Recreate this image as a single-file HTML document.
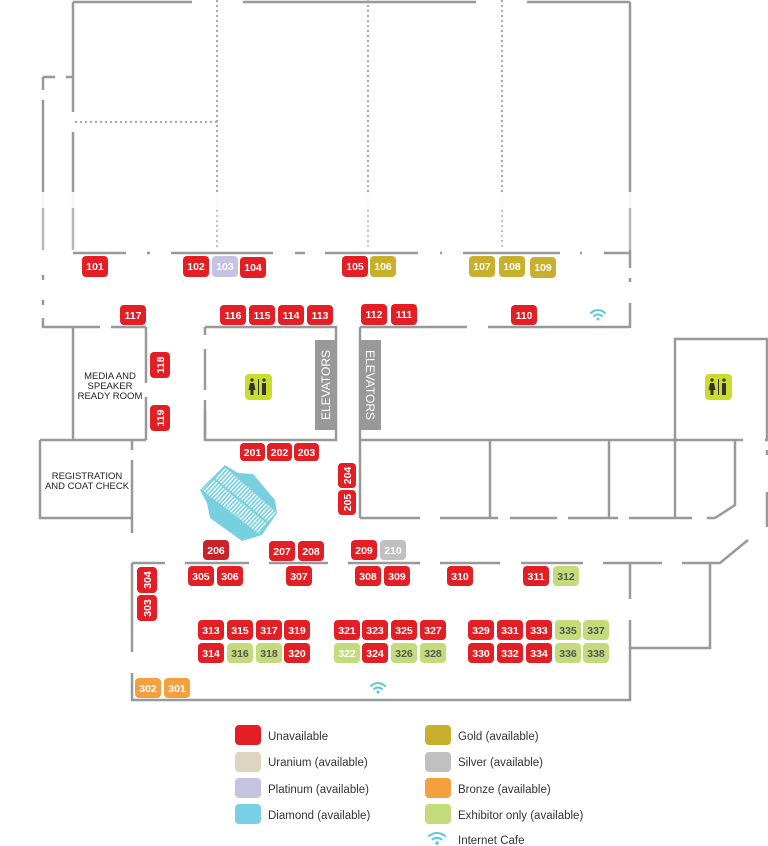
<!DOCTYPE html>
<html><head><meta charset="utf-8"><style>
html,body{margin:0;padding:0;background:#fff;}
svg{display:block;}
.b{font-family:"Liberation Sans",sans-serif;font-weight:bold;font-size:10.5px;fill:#fff;text-anchor:middle;}
.g{fill:#555;}
.l{font-family:"Liberation Sans",sans-serif;font-size:11.5px;fill:#333;}
.r{font-family:"Liberation Sans",sans-serif;font-size:9.5px;fill:#222;text-anchor:middle;}
</style></head><body>
<svg width="768" height="846" viewBox="0 0 768 846" xmlns="http://www.w3.org/2000/svg">
<defs>
<pattern id="st" width="3" height="10" patternUnits="userSpaceOnUse" patternTransform="rotate(42.7)">
<rect width="3" height="10" fill="#78cfe0"/><rect x="0" width="1.3" height="10" fill="#fff"/>
</pattern>
</defs>
<g stroke="#999" stroke-width="2.5" fill="none">
<path d="M73 2H192M243 2H476M527 2H630"/>
<path d="M73 2V112M73 132V250M630 2V253"/>
<path d="M73 253H126M147 253H150M171 253H273M295 253H305M325 253H418M440 253H442M463 253H560M580 253H582M604 253H630"/>
<path d="M630 253V268M630 278V282M630 303V328"/>
<path d="M43 77H55M66 77H73M43 77V90M43 100V250M43 275V280M43 300V305M43 318V327H100M111 327H146"/>
<path d="M205 327H336V440H205V400M205 335V327M205 349V390"/>
<path d="M205 410V440"/>
<path d="M360 327H467M488 327H630"/>
<path d="M360 327V518"/>
<path d="M73 327V440M146 327V383M146 397V440M40 440H146M40 440V518H132M132 440V450M132 460V533"/>
<path d="M360 440H743M765 440H768"/>
<path d="M675 440V339H767V440"/>
<path d="M490 440V518M609 440V518M675 440V518M735 440V505L715 518M767 450V455M767 492V527"/>
<path d="M360 518H420M440 518H498M510 518H557M568 518H618M629 518H692M707 518H715"/>
<path d="M132 563H165M185 563H249M269 563H328M348 563H420M440 563H500M521 563H583M603 563H662M682 563H720L748 540"/>
<path d="M132 563V652M132 673V700H630V620M630 599V563M630 648H710V563"/>
</g>
<g stroke="#aaa" stroke-width="2" stroke-dasharray="2 3" fill="none">
<path d="M217 0V250M368 0V250M502 0V250M75 122H217"/>
</g>
<rect x="0" y="192" width="768" height="16" fill="#fff" opacity="0.9"/>
<rect x="0" y="208" width="768" height="42" fill="#fff" opacity="0.3"/>
<rect x="315" y="340" width="20" height="90" fill="#999"/>
<rect x="361" y="340" width="20" height="90" fill="#999"/>
<text transform="translate(330,385) rotate(-90)" text-anchor="middle" font-family="Liberation Sans,sans-serif" font-size="12" fill="#fff">ELEVATORS</text>
<text transform="translate(366,385) rotate(90)" text-anchor="middle" font-family="Liberation Sans,sans-serif" font-size="12" fill="#fff">ELEVATORS</text>
<text class="r" x="110" y="379">MEDIA AND</text>
<text class="r" x="110" y="389">SPEAKER</text>
<text class="r" x="110" y="399">READY ROOM</text>
<text class="r" x="87" y="479">REGISTRATION</text>
<text class="r" x="87" y="489">AND COAT CHECK</text>
<rect x="245" y="374" width="27" height="26" rx="4" fill="#cbdc2a"/>
<rect x="705" y="374" width="27" height="26" rx="4" fill="#cbdc2a"/>
<g fill="#333"><circle cx="252" cy="380" r="1.6"/><path d="M250 383h4l1.5 7h-2v5h-3v-5h-2z"/><rect x="258" y="379" width="1" height="16"/><circle cx="264" cy="380" r="1.6"/><rect x="262" y="383" width="4" height="12"/>
<circle cx="712" cy="380" r="1.6"/><path d="M710 383h4l1.5 7h-2v5h-3v-5h-2z"/><rect x="718" y="379" width="1" height="16"/><circle cx="724" cy="380" r="1.6"/><rect x="722" y="383" width="4" height="12"/></g>
<polygon points="225,465 238,473 253,474 275,500 277,513 262,535 242,541 210,518 207,503 200,490" fill="#78cfe0"/>
<polygon points="225,467 202,490 259,534 276,512" fill="url(#st)"/>
<line x1="213" y1="478" x2="268" y2="523" stroke="#78cfe0" stroke-width="2"/>
<g fill="#e31e24">
<rect x="82" y="256" width="26" height="21" rx="4"/>
<rect x="183" y="256" width="26" height="21" rx="4"/>
<rect x="240" y="257" width="26" height="21" rx="4"/>
<rect x="342" y="256" width="26" height="21" rx="4"/>
<rect x="120" y="305" width="26" height="20" rx="4"/>
<rect x="220" y="305" width="26" height="20" rx="4"/>
<rect x="249" y="305" width="26" height="20" rx="4"/>
<rect x="278" y="305" width="26" height="20" rx="4"/>
<rect x="307" y="305" width="26" height="20" rx="4"/>
<rect x="361" y="304" width="26" height="21" rx="4"/>
<rect x="391" y="304" width="26" height="21" rx="4"/>
<rect x="511" y="305" width="26" height="20" rx="4"/>
<rect x="150" y="352" width="20" height="26" rx="4"/>
<rect x="150" y="405" width="20" height="26" rx="4"/>
<rect x="240" y="443" width="25" height="18" rx="4"/>
<rect x="267" y="443" width="25" height="18" rx="4"/>
<rect x="294" y="443" width="25" height="18" rx="4"/>
<rect x="338" y="463" width="18" height="25" rx="4"/>
<rect x="338" y="490" width="18" height="25" rx="4"/>
<rect x="269" y="541" width="26" height="20" rx="4"/>
<rect x="298" y="541" width="26" height="20" rx="4"/>
<rect x="351" y="540" width="26" height="20" rx="4"/>
<rect x="137" y="567" width="20" height="26" rx="4"/>
<rect x="137" y="595" width="20" height="26" rx="4"/>
<rect x="188" y="566" width="26" height="20" rx="4"/>
<rect x="217" y="566" width="26" height="20" rx="4"/>
<rect x="286" y="566" width="26" height="20" rx="4"/>
<rect x="355" y="566" width="26" height="20" rx="4"/>
<rect x="384" y="566" width="26" height="20" rx="4"/>
<rect x="447" y="566" width="26" height="20" rx="4"/>
<rect x="523" y="566" width="26" height="20" rx="4"/>
</g>
<rect x="203" y="540" width="26" height="20" rx="4" fill="#c8232c"/>
<rect x="212" y="256" width="26" height="21" rx="4" fill="#c6c3e0"/>
<g fill="#c9b02c">
<rect x="370" y="256" width="26" height="21" rx="4"/>
<rect x="469" y="256" width="26" height="21" rx="4"/>
<rect x="499" y="256" width="26" height="21" rx="4"/>
<rect x="530" y="257" width="26" height="21" rx="4"/>
</g>
<rect x="380" y="540" width="26" height="20" rx="4" fill="#c0c0c0"/>
<rect x="553" y="566" width="26" height="20" rx="4" fill="#c3db7a"/>
<rect x="135" y="678" width="26" height="20" rx="4" fill="#f5a03f"/>
<rect x="164" y="678" width="26" height="20" rx="4" fill="#f5a03f"/>
<g class="b">
<text x="95" y="270">101</text><text x="196" y="270">102</text><text x="225" y="270">103</text><text x="253" y="271">104</text>
<text x="355" y="270">105</text><text x="383" y="270">106</text><text x="482" y="270">107</text><text x="512" y="270">108</text><text x="543" y="271">109</text>
<text x="133" y="319">117</text><text x="233" y="319">116</text><text x="262" y="319">115</text><text x="291" y="319">114</text><text x="320" y="319">113</text>
<text x="374" y="318">112</text><text x="404" y="318">111</text><text x="524" y="319">110</text>
<text transform="translate(164,365) rotate(-90)">118</text><text transform="translate(164,418) rotate(-90)">119</text>
<text x="252.5" y="456">201</text><text x="279.5" y="456">202</text><text x="306.5" y="456">203</text>
<text transform="translate(351,475.5) rotate(-90)">204</text><text transform="translate(351,502.5) rotate(-90)">205</text>
<text x="216" y="554">206</text><text x="282" y="555">207</text><text x="311" y="555">208</text><text x="364" y="554">209</text><text x="393" y="554">210</text>
<text transform="translate(151,580) rotate(-90)">304</text><text transform="translate(151,608) rotate(-90)">303</text>
<text x="201" y="580">305</text><text x="230" y="580">306</text><text x="299" y="580">307</text><text x="368" y="580">308</text><text x="397" y="580">309</text><text x="460" y="580">310</text><text x="536" y="580">311</text><text x="566" y="580" class="b g">312</text>
<text x="148" y="692">302</text><text x="177" y="692">301</text>
</g>
<g font-family="Liberation Sans,sans-serif" font-weight="bold" font-size="10.5" text-anchor="middle">
<g fill="#e31e24">
<rect x="198" y="620" width="26" height="20" rx="4"/><rect x="227" y="620" width="26" height="20" rx="4"/><rect x="256" y="620" width="26" height="20" rx="4"/><rect x="284" y="620" width="26" height="20" rx="4"/>
<rect x="334" y="620" width="26" height="20" rx="4"/><rect x="362" y="620" width="26" height="20" rx="4"/><rect x="391" y="620" width="26" height="20" rx="4"/><rect x="420" y="620" width="26" height="20" rx="4"/>
<rect x="468" y="620" width="26" height="20" rx="4"/><rect x="497" y="620" width="26" height="20" rx="4"/><rect x="526" y="620" width="26" height="20" rx="4"/>
<rect x="198" y="643" width="26" height="20" rx="4"/><rect x="284" y="643" width="26" height="20" rx="4"/><rect x="362" y="643" width="26" height="20" rx="4"/>
<rect x="468" y="643" width="26" height="20" rx="4"/><rect x="497" y="643" width="26" height="20" rx="4"/><rect x="526" y="643" width="26" height="20" rx="4"/>
</g>
<g fill="#c3db7a">
<rect x="555" y="620" width="26" height="20" rx="4"/><rect x="583" y="620" width="26" height="20" rx="4"/>
<rect x="227" y="643" width="26" height="20" rx="4"/><rect x="256" y="643" width="26" height="20" rx="4"/><rect x="334" y="643" width="26" height="20" rx="4"/>
<rect x="391" y="643" width="26" height="20" rx="4"/><rect x="420" y="643" width="26" height="20" rx="4"/><rect x="555" y="643" width="26" height="20" rx="4"/><rect x="583" y="643" width="26" height="20" rx="4"/>
</g>
<g fill="#fff">
<text x="211" y="634">313</text><text x="240" y="634">315</text><text x="269" y="634">317</text><text x="297" y="634">319</text>
<text x="347" y="634">321</text><text x="375" y="634">323</text><text x="404" y="634">325</text><text x="433" y="634">327</text>
<text x="481" y="634">329</text><text x="510" y="634">331</text><text x="539" y="634">333</text>
<text x="211" y="657">314</text><text x="297" y="657">320</text><text x="347" y="657">322</text><text x="375" y="657">324</text>
<text x="481" y="657">330</text><text x="510" y="657">332</text><text x="539" y="657">334</text>
</g>
<g fill="#555">
<text x="568" y="634">335</text><text x="596" y="634">337</text>
<text x="240" y="657">316</text><text x="269" y="657">318</text><text x="404" y="657">326</text><text x="433" y="657">328</text>
<text x="568" y="657">336</text><text x="596" y="657">338</text>
</g>
</g>
<g fill="none" stroke="#5bc8dc" stroke-width="2" stroke-linecap="round">
<path d="M591 313a10 10 0 0 1 14 0M594 316a6 6 0 0 1 8 0"/>
<path d="M371 686a10 10 0 0 1 14 0M374 689a6 6 0 0 1 8 0"/>
<path d="M429 836a12 12 0 0 1 16 0M432.5 839.5a7 7 0 0 1 9 0"/>
</g>
<circle cx="598" cy="319" r="1.5" fill="#5bc8dc"/><circle cx="378" cy="692" r="1.5" fill="#5bc8dc"/><circle cx="437" cy="843" r="1.8" fill="#5bc8dc"/>
<rect x="235" y="725" width="26" height="20" rx="4" fill="#e31e24"/>
<rect x="235" y="752" width="26" height="20" rx="4" fill="#ddd5c0"/>
<rect x="235" y="778" width="26" height="20" rx="4" fill="#c6c3e0"/>
<rect x="235" y="804" width="26" height="20" rx="4" fill="#78cfe6"/>
<rect x="425" y="725" width="26" height="20" rx="4" fill="#c9b02c"/>
<rect x="425" y="752" width="26" height="20" rx="4" fill="#c0c0c0"/>
<rect x="425" y="778" width="26" height="20" rx="4" fill="#f5a03f"/>
<rect x="425" y="804" width="26" height="20" rx="4" fill="#c3db7a"/>
<text class="l" x="268" y="740">Unavailable</text>
<text class="l" x="268" y="766">Uranium (available)</text>
<text class="l" x="268" y="793">Platinum (available)</text>
<text class="l" x="268" y="819">Diamond (available)</text>
<text class="l" x="458" y="740">Gold (available)</text>
<text class="l" x="458" y="766">Silver (available)</text>
<text class="l" x="458" y="793">Bronze (available)</text>
<text class="l" x="458" y="819">Exhibitor only (available)</text>
<text class="l" x="458" y="844">Internet Cafe</text>
</svg>
</body></html>
